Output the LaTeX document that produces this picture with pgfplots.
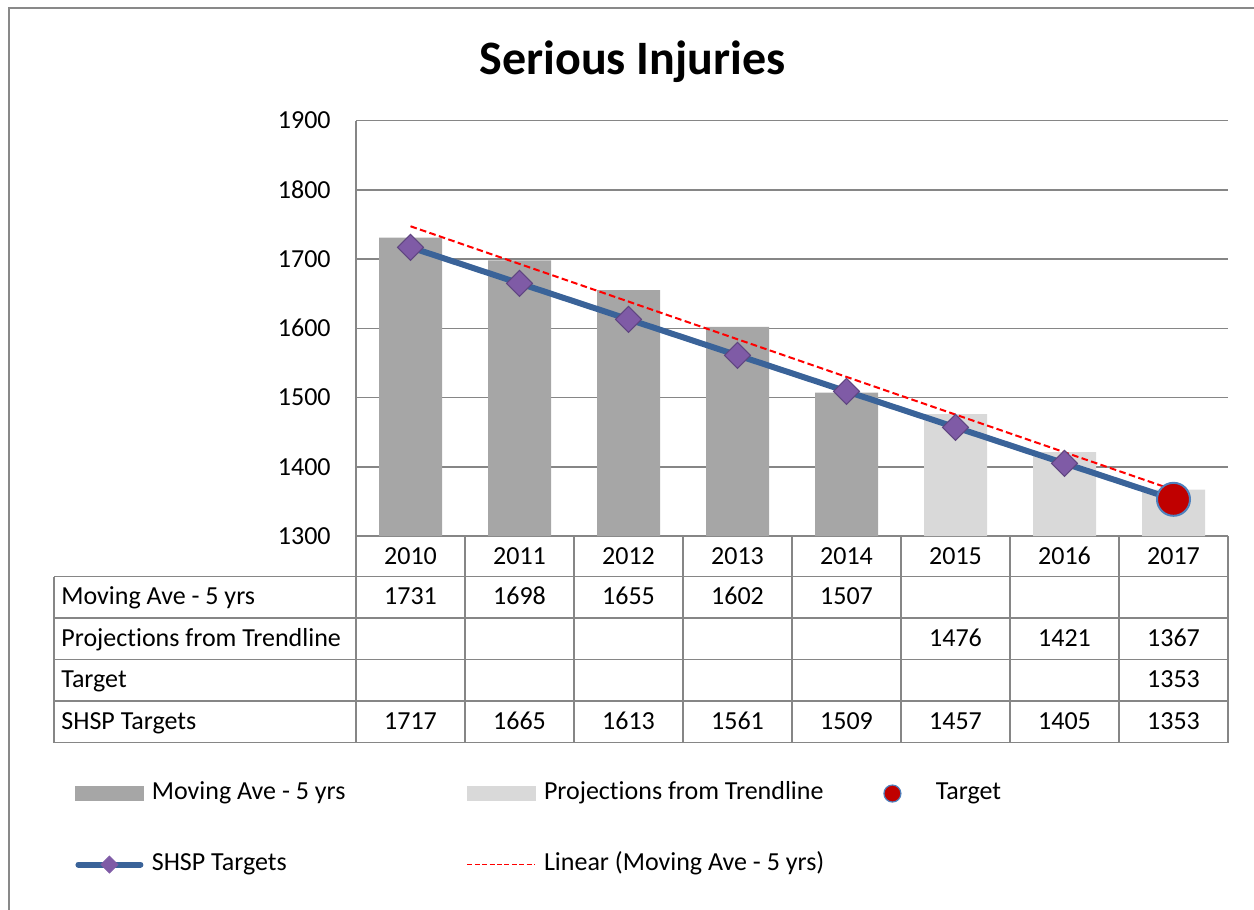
\documentclass[border=0pt]{standalone}
\usepackage{pgfplots}
\pgfplotsset{compat=1.18}
\usepackage{fontspec}
\setmainfont{Carlito}[Ligatures=NoCommon]
\definecolor{barA}{HTML}{A6A6A6}
\definecolor{barB}{HTML}{D9D9D9}
\definecolor{shsp}{HTML}{3A6399}
\definecolor{dia}{HTML}{7F5BA6}
\definecolor{diaD}{HTML}{5F4580}
\definecolor{tgt}{HTML}{C00000}
\definecolor{tgtB}{HTML}{4F81BD}
\definecolor{gridc}{HTML}{868686}
\definecolor{framec}{HTML}{898989}
\newcommand{\tfont}{\fontsize{13}{15.6}\selectfont}
\begin{document}
\begin{tikzpicture}
\path[use as bounding box] (0,0) rectangle (627pt,-455pt);
\draw[framec, line width=0.75pt] (4.5pt,-455pt) -- (4.5pt,-4pt) -- (627pt,-4pt);
\begin{axis}[
  at={(178pt,-268pt)}, anchor=south west,
  scale only axis, width=436pt, height=207.7pt,
  xmin=-0.5, xmax=7.5, ymin=1300, ymax=1900,
  ytick={1300,1400,1500,1600,1700,1800,1900},
  xtick={0,1,2,3,4,5,6,7},
  xticklabels={2010,2011,2012,2013,2014,2015,2016,2017},
  axis x line*=bottom, axis y line*=left,
  axis line style={gridc, line width=0.75pt},
  ymajorgrids, grid style={gridc, line width=0.75pt},
  major tick length=0pt, tick style={draw=none},
  ticklabel style={font=\tfont},
  /pgf/number format/assume math mode=true,
  /pgf/number format/set thousands separator={},
  yticklabel style={anchor=east, inner sep=0pt, xshift=-12.5pt},
  xticklabel style={anchor=base, inner sep=0pt, yshift=-14pt},
  legend columns=3,
  legend style={at={(-0.3222,-0.5911)}, anchor=north west, draw=none, fill=none,
    inner sep=0pt, outer sep=0pt, row sep=23.5pt, column sep=0pt,
    nodes={inner sep=0pt, text height=9pt, text depth=3pt}, cells={anchor=west},
    font=\tfont},
]
% bars
\addplot[forget plot, ybar, bar width=31.5pt, bar shift=0pt, fill=barA, draw=none]
  coordinates {(0,1731) (1,1698) (2,1655) (3,1602) (4,1507)};
\addplot[forget plot, ybar, bar width=31.5pt, bar shift=0pt, fill=barB, draw=none]
  coordinates {(5,1476) (6,1421) (7,1367)};
% linear trend of moving average
\addplot[forget plot, red, line width=1pt, dash pattern=on 3.3pt off 1.7pt]
  coordinates {(0,1747.4) (7,1366.6)};
% SHSP targets
\addplot[forget plot, shsp, line width=3pt, mark=square*, mark size=4.6pt,
  mark options={rotate=45, fill=dia, draw=diaD, line width=0.5pt, solid}]
  coordinates {(0,1717) (1,1665) (2,1613) (3,1561) (4,1509) (5,1457) (6,1405) (7,1353)};
% target
\addplot[forget plot, only marks, mark=*, mark size=8.25pt,
  mark options={fill=tgt, draw=tgtB, line width=1pt}]
  coordinates {(7,1353)};
% legend
\addlegendimage{legend image code/.code={\fill[barA] (0pt,-3.5pt) rectangle (34pt,3.5pt);}}
\addlegendentry{\hspace*{4pt}\makebox[157.5pt][l]{Moving Ave - 5 yrs}}
\addlegendimage{legend image code/.code={\fill[barB] (0pt,-3.5pt) rectangle (34pt,3.5pt);}}
\addlegendentry{\hspace*{4pt}\makebox[157.5pt][l]{Projections from Trendline}}
\addlegendimage{legend image code/.code={\path (0pt,0pt) (34pt,0pt);
  \draw[tgtB, fill=tgt, line width=0.6pt] (16.5pt,0pt) circle (4.25pt);}}
\addlegendentry{\hspace*{4pt}Target}
\addlegendimage{legend image code/.code={\draw[shsp, line width=3pt, line cap=round] (1.5pt,0pt) -- (32.5pt,0pt);
  \fill[dia, rotate around={45:(17pt,0pt)}] (14pt,-3pt) rectangle (20pt,3pt);}}
\addlegendentry{\hspace*{4pt}\makebox[157.5pt][l]{SHSP Targets}}
\addlegendimage{legend image code/.code={\draw[red, line width=0.6pt, dash pattern=on 2.5pt off 1.2pt] (0pt,0pt) -- (34pt,0pt);}}
\addlegendentry{\hspace*{4pt}\makebox[157.5pt][l]{Linear (Moving Ave - 5 yrs)}}
\end{axis}
% title and data table, in pixel units of the reference
\begin{scope}[x=0.5pt, y=-0.5pt]
\node[anchor=base, font=\fontsize{24}{28}\selectfont\bfseries] at (632.5,75) {Serious Injuries};
\draw[gridc, line width=0.75pt]
  (54,576.7) -- (1228,576.7)
  (54,618.2) -- (1228,618.2)
  (54,659.7) -- (1228,659.7)
  (54,701.2) -- (1228,701.2)
  (54,742.7) -- (1228,742.7)
  (54,576.7) -- (54,742.7)
  (356,536) -- (356,742.7);
\foreach \i in {1,...,8} {\draw[gridc, line width=0.75pt] ({356+109*\i},536) -- ({356+109*\i},742.7);}
\begin{scope}[every node/.style={font=\tfont, inner sep=0pt}]
\node[anchor=base west] at (61,604.5) {Moving Ave - 5 yrs};
\node[anchor=base west] at (61,646) {Projections from Trendline};
\node[anchor=base west] at (61,687.5) {Target};
\node[anchor=base west] at (61,729) {SHSP Targets};
\foreach \v [count=\k from 0] in {1731,1698,1655,1602,1507}
  {\node[anchor=base] at ({410.5+109*\k},604.5) {\v};}
\foreach \v [count=\k from 5] in {1476,1421,1367}
  {\node[anchor=base] at ({410.5+109*\k},646) {\v};}
\node[anchor=base] at ({410.5+109*7},687.5) {1353};
\foreach \v [count=\k from 0] in {1717,1665,1613,1561,1509,1457,1405,1353}
  {\node[anchor=base] at ({410.5+109*\k},729) {\v};}
\end{scope}
\end{scope}
\end{tikzpicture}
\end{document}
